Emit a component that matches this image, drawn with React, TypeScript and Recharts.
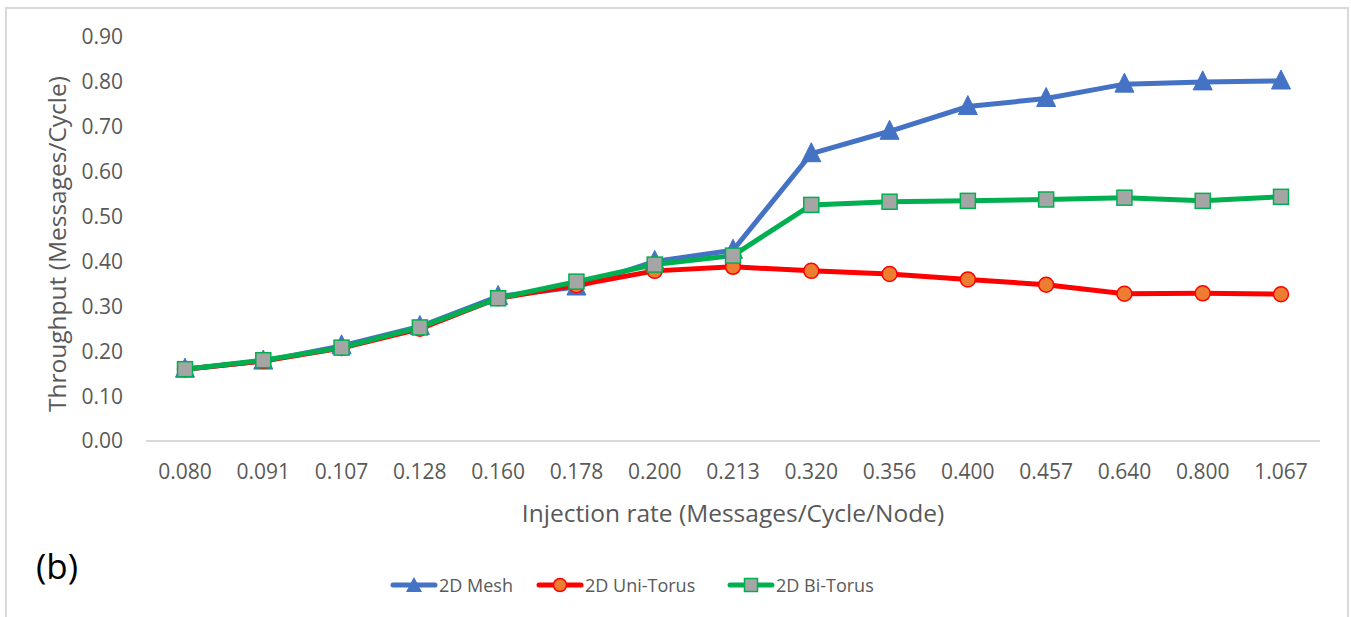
import React from "react";
import { LineChart, Line, XAxis, YAxis, Legend } from "recharts";

const categories = ["0.080", "0.091", "0.107", "0.128", "0.160", "0.178", "0.200", "0.213", "0.320", "0.356", "0.400", "0.457", "0.640", "0.800", "1.067"];
const meshValues = [0.16, 0.178, 0.212, 0.255, 0.322, 0.343, 0.4, 0.425, 0.64, 0.69, 0.745, 0.763, 0.795, 0.8, 0.802];
const uniTorusValues = [0.16, 0.178, 0.207, 0.25, 0.318, 0.347, 0.379, 0.388, 0.379, 0.372, 0.36, 0.348, 0.328, 0.329, 0.327];
const biTorusValues = [0.16, 0.18, 0.208, 0.253, 0.318, 0.355, 0.393, 0.413, 0.526, 0.533, 0.535, 0.538, 0.542, 0.535, 0.544];
const yTicks = [0, 0.1, 0.2, 0.3, 0.4, 0.5, 0.6, 0.7, 0.8, 0.9];
const seriesNames = ["2D Mesh", "2D Uni-Torus", "2D Bi-Torus"];

const data = categories.map((c, i) => ({
  x: c,
  mesh: meshValues[i],
  uni: uniTorusValues[i],
  bi: biTorusValues[i],
}));

const FONT = "'Open Sans', sans-serif";
const TEXT = "#595959";
const BLUE = "#4472c4";
const RED = "#ff0000";
const GREEN = "#00b050";

const Triangle = (props: any) => {
  const { cx, cy } = props;
  if (cx == null || cy == null) return null;
  return <path d={`M${cx},${cy - 11} L${cx + 9.5},${cy + 8} L${cx - 9.5},${cy + 8} Z`} fill={BLUE} stroke={BLUE} strokeWidth={1} />;
};
const CircleDot = (props: any) => {
  const { cx, cy } = props;
  if (cx == null || cy == null) return null;
  return <circle cx={cx} cy={cy} r={7.5} fill="#ed7d31" stroke={RED} strokeWidth={1.5} />;
};
const SquareDot = (props: any) => {
  const { cx, cy } = props;
  if (cx == null || cy == null) return null;
  return <rect x={cx - 7.5} y={cy - 7.5} width={15} height={15} fill="#a5a5a5" stroke={GREEN} strokeWidth={1.5} />;
};

const LegendIcon = ({ kind }: { kind: number }) => {
  const color = kind === 0 ? BLUE : kind === 1 ? RED : GREEN;
  return (
    <svg width={48} height={20} style={{ display: "block" }}>
      <line x1={3} y1={10} x2={45} y2={10} stroke={color} strokeWidth={5} strokeLinecap="round" />
      {kind === 0 && <path d="M24,2 L32,17 L16,17 Z" fill={BLUE} />}
      {kind === 1 && <circle cx={24} cy={10} r={6.5} fill="#ed7d31" stroke={RED} strokeWidth={1.5} />}
      {kind === 2 && <rect x={17.5} y={3.5} width={13} height={13} fill="#a5a5a5" stroke={GREEN} strokeWidth={1.5} />}
    </svg>
  );
};

const legendLefts = [390, 536, 727];

const LegendContent = () => (
  <div style={{ position: "relative", width: 1351, height: 70 }}>
    <span style={{ position: "absolute", left: 36, top: -5, fontFamily: FONT, fontSize: 35, color: "#000", lineHeight: "48px" }}>(b)</span>
    {seriesNames.map((n, i) => (
      <div key={n} style={{ position: "absolute", left: legendLefts[i], top: 26, display: "flex", alignItems: "center", fontFamily: FONT, fontSize: 18, color: TEXT, whiteSpace: "nowrap" }}>
        <LegendIcon kind={i} />
        <span style={{ marginLeft: 1 }}>{n}</span>
      </div>
    ))}
  </div>
);

export default function App() {
  return (
    <div style={{ position: "absolute", left: 0, top: 0, width: 1351, height: 617, overflow: "hidden", background: "#fff" }}>
      <div style={{ position: "absolute", left: 5, top: 7, width: 1344, height: 700, border: "2px solid #d9d9d9", boxSizing: "border-box" }} />
      <div style={{ position: "absolute", left: 0, top: 0 }}>
        <LineChart width={1351} height={617} data={data} margin={{ top: 37, right: 31, left: 0, bottom: 0 }}>
          <XAxis
            dataKey="x"
            type="category"
            interval={0}
            padding={{ left: 39, right: 39 }}
            axisLine={{ stroke: "#d9d9d9", strokeWidth: 2 }}
            tickLine={false}
            tickSize={6}
            tickMargin={17}
            height={106}
            tick={{ fill: TEXT, fontSize: 21, fontFamily: FONT }}
            label={{ value: "Injection rate (Messages/Cycle/Node)", position: "insideTop", offset: 64, fill: TEXT, fontSize: 24.5, fontFamily: FONT }}
          />
          <YAxis
            domain={[0, 0.9]}
            ticks={yTicks}
            interval={0}
            width={146}
            axisLine={false}
            tickLine={false}
            tickSize={6}
            tickMargin={17}
            tickFormatter={(v: number) => v.toFixed(2)}
            tick={{ fill: TEXT, fontSize: 21, fontFamily: FONT }}
            label={{ value: "Throughput (Messages/Cycle)", angle: -90, position: "center", dx: -16, dy: 5, fill: TEXT, fontSize: 24.5, fontFamily: FONT }}
          />
          <Legend verticalAlign="bottom" height={70} content={<LegendContent />} wrapperStyle={{ left: 0, width: 1351, height: 70, bottom: 0 }} />
          <Line dataKey="mesh" name={seriesNames[0]} stroke={BLUE} strokeWidth={5} dot={<Triangle />} activeDot={false} isAnimationActive={false} />
          <Line dataKey="uni" name={seriesNames[1]} stroke={RED} strokeWidth={5} dot={<CircleDot />} activeDot={false} isAnimationActive={false} />
          <Line dataKey="bi" name={seriesNames[2]} stroke={GREEN} strokeWidth={5} dot={<SquareDot />} activeDot={false} isAnimationActive={false} />
        </LineChart>
      </div>
    </div>
  );
}
